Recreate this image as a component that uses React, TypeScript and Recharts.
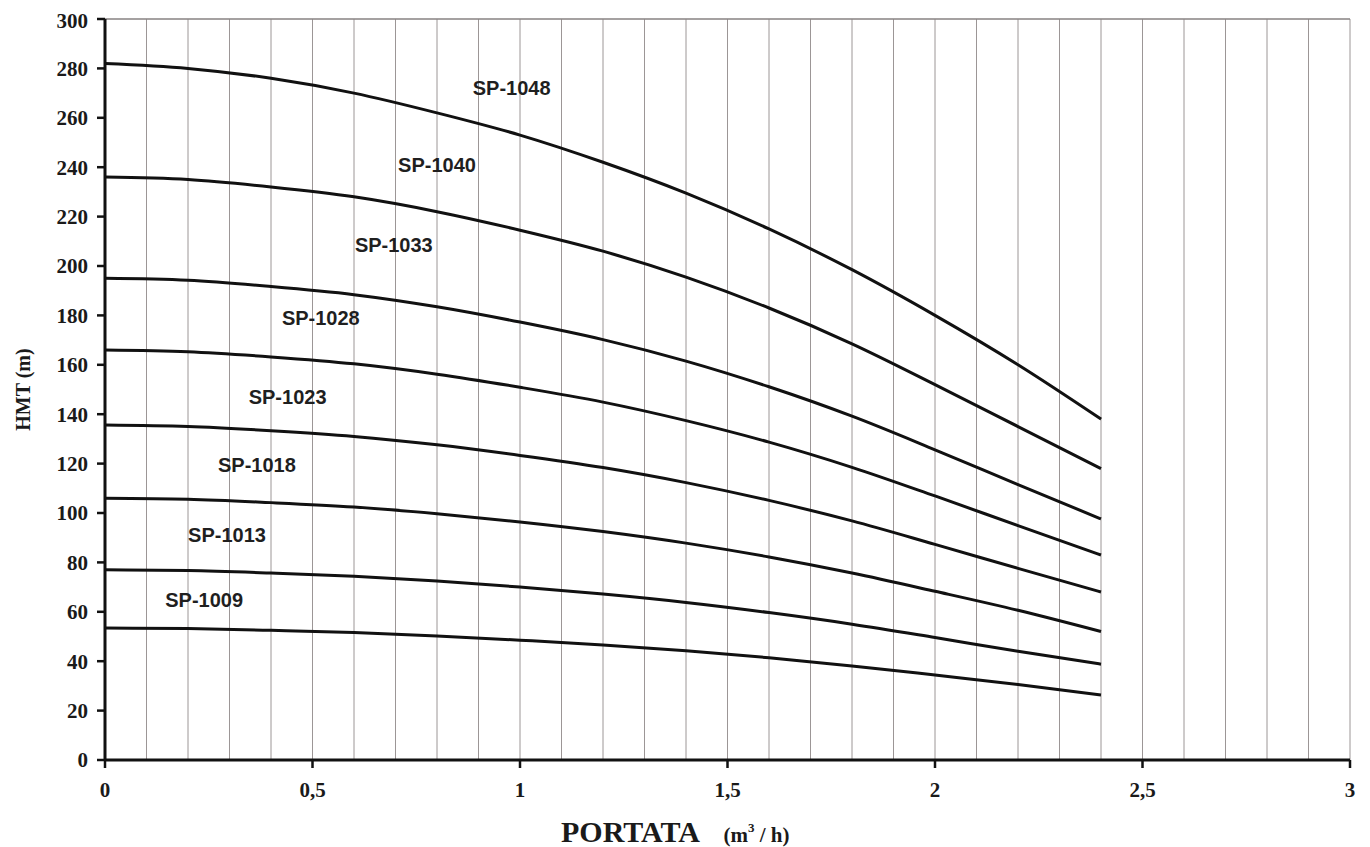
import React from "react";
import { CartesianGrid, Line, LineChart, ReferenceDot, ReferenceLine, XAxis, YAxis } from "recharts";

// portata (m3/h) at which the curves were read
const portata = [0, 0.2, 0.4, 0.6, 0.8, 1.0, 1.2, 1.4, 1.6, 1.8, 2.0, 2.2, 2.4];

// HMT (m)
const sp1048 = [282, 280, 276, 270, 262, 253, 242, 229.5, 215, 198.5, 180, 160, 138];
const sp1040 = [236, 235, 232, 228, 222, 214.5, 206, 195.5, 183, 168.5, 152, 135, 118];
const sp1033 = [195, 194.2, 191.7, 188.4, 183.5, 177.3, 170.2, 161.5, 151.1, 139.2, 125.6, 111.5, 97.6];
const sp1028 = [166, 165.3, 163.2, 160.4, 156.2, 150.9, 144.9, 137.4, 128.7, 118.5, 106.9, 94.9, 83];
const sp1023 = [135.6, 135, 133.3, 131, 127.6, 123.3, 118.4, 112.3, 105.1, 96.8, 87.3, 77.6, 68];
const sp1018 = [106, 105.6, 104.2, 102.4, 99.7, 96.4, 92.5, 87.8, 82.2, 75.7, 68.3, 60.6, 52];
const sp1013 = [77, 76.7, 75.7, 74.4, 72.5, 70, 67.2, 63.8, 59.7, 55, 49.6, 44, 38.8];
const sp1009 = [53.4, 53.2, 52.5, 51.6, 50.2, 48.5, 46.6, 44.2, 41.4, 38.1, 34.4, 30.6, 26.3];

const seriesNames = ["SP-1048", "SP-1040", "SP-1033", "SP-1028", "SP-1023", "SP-1018", "SP-1013", "SP-1009"];
const seriesValues = [sp1048, sp1040, sp1033, sp1028, sp1023, sp1018, sp1013, sp1009];

// where each curve name is written (portata, HMT)
const labelPortata = [0.98, 0.8, 0.696, 0.52, 0.44, 0.366, 0.294, 0.239];
const labelHmt = [272, 241, 208.5, 179, 147, 119.4, 91, 64.8];

const xTicks = [0, 0.5, 1, 1.5, 2, 2.5, 3];
const yTicks = [0, 20, 40, 60, 80, 100, 120, 140, 160, 180, 200, 220, 240, 260, 280, 300];
const xGridTicks = [0.1, 0.2, 0.3, 0.4, 0.5, 0.6, 0.7, 0.8, 0.9, 1, 1.1, 1.2, 1.3, 1.4, 1.5, 1.6, 1.7, 1.8, 1.9, 2, 2.1, 2.2, 2.3, 2.4, 2.5, 2.6, 2.7, 2.8, 2.9, 3];
const yGridTicks = [10, 20, 30, 40, 50, 60, 70, 80, 90, 100, 110, 120, 130, 140, 150, 160, 170, 180, 190, 200, 210, 220, 230, 240, 250, 260, 270, 280, 290];

const data = portata.map((q, i) => {
    const row: Record<string, number> = { q };
    seriesNames.forEach((name, s) => {
        row[name] = seriesValues[s][i];
    });
    return row;
});

const serif = "'Liberation Serif', 'Times New Roman', serif";
const sans = "'Liberation Sans', Arial, sans-serif";

const tickStyle = { fill: "#1a1a1a", fontSize: 21, fontFamily: serif, fontWeight: 700 };

function CurveName({ viewBox, text }: any) {
    return (
        <text
            x={viewBox.x}
            y={viewBox.y}
            textAnchor="middle"
            dominantBaseline="central"
            fontFamily={sans}
            fontWeight={700}
            fontSize={20}
            fill="#1f1f1f"
        >
            {text}
        </text>
    );
}

function XTitle({ viewBox }: any) {
    const cx = viewBox.x + viewBox.width / 2;
    const base = viewBox.y + 82;
    return (
        <text y={base} fontFamily={serif} fontWeight={700} fill="#1a1a1a">
            <tspan x={cx - 97} textAnchor="middle" fontSize={30}>PORTATA</tspan>
            <tspan x={cx - 4} fontSize={21}>(m</tspan>
            <tspan dy={-10} fontSize={13}>3</tspan>
            <tspan dy={10} fontSize={21}> / h)</tspan>
        </text>
    );
}

function YTitle({ viewBox }: any) {
    const x = viewBox.x + 15;
    const y = viewBox.y + viewBox.height / 2;
    return (
        <text
            x={x}
            y={y}
            transform={`rotate(-90 ${x} ${y})`}
            textAnchor="middle"
            dominantBaseline="central"
            fontFamily={serif}
            fontWeight={700}
            fontSize={20}
            fill="#1a1a1a"
        >
            HMT (m)
        </text>
    );
}

export default function App() {
    return (
        <LineChart width={1354} height={839} data={data} margin={{ top: 11, right: 12, left: 0, bottom: 0 }}>
            <XAxis xAxisId="grid" type="number" dataKey="q" domain={[0, 3]} ticks={xGridTicks} hide />
            <YAxis yAxisId="grid" type="number" domain={[0, 300]} ticks={yGridTicks} hide />
            <CartesianGrid xAxisId="grid" yAxisId="grid" vertical={false} stroke="#ededed" strokeWidth={1} />
            <CartesianGrid xAxisId="grid" yAxisId="grid" horizontal={false} stroke="#9c9696" strokeWidth={1} />
            <ReferenceLine y={300} stroke="#8a8585" strokeWidth={1.5} />
            <XAxis
                type="number"
                dataKey="q"
                domain={[0, 3]}
                ticks={xTicks}
                height={87}
                tickFormatter={v => String(v).replace(".", ",")}
                tick={tickStyle}
                tickSize={8}
                tickMargin={14}
                axisLine={{ stroke: "#111", strokeWidth: 3 }}
                tickLine={{ stroke: "#111", strokeWidth: 2.5 }}
                label={<XTitle />}
            />
            <YAxis
                type="number"
                domain={[0, 300]}
                ticks={yTicks}
                width={97}
                tick={tickStyle}
                tickSize={8}
                tickMargin={9}
                axisLine={{ stroke: "#111", strokeWidth: 3 }}
                tickLine={{ stroke: "#111", strokeWidth: 2.5 }}
                label={<YTitle />}
            />
            {seriesNames.map(name => (
                <Line
                    key={name}
                    dataKey={name}
                    type="monotone"
                    stroke="#111"
                    strokeWidth={3}
                    dot={false}
                    activeDot={false}
                    isAnimationActive={false}
                />
            ))}
            {seriesNames.map((name, i) => (
                <ReferenceDot
                    key={"lbl-" + name}
                    x={labelPortata[i]}
                    y={labelHmt[i]}
                    r={0}
                    fill="none"
                    stroke="none"
                    label={<CurveName text={name} />}
                />
            ))}
        </LineChart>
    );
}
